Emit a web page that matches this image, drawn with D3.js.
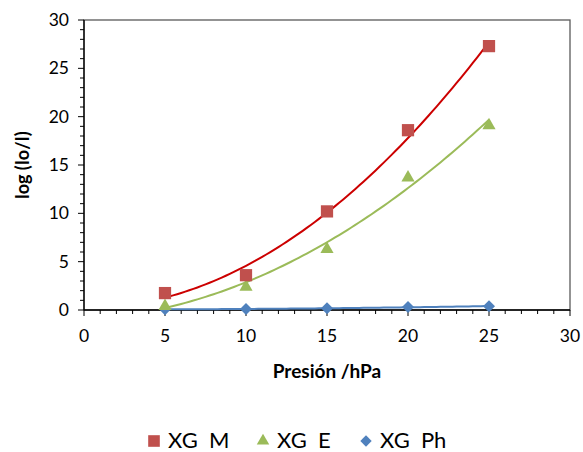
<!DOCTYPE html>
<html><head><meta charset="utf-8">
<script src="https://cdn.jsdelivr.net/npm/d3@7"></script>
<style>body{margin:0;background:#fff}svg{display:block}text{font-family:Lato,"Open Sans",sans-serif;fill:#000}</style>
</head><body>
<script>
const pressures = [5, 10, 15, 20, 25];
const seriesM = [1.75, 3.6, 10.2, 18.6, 27.3];
const seriesE = [0.5, 2.5, 6.4, 13.8, 19.2];
const seriesPh = [0.07, 0.1, 0.17, 0.3, 0.4];
const seriesNames = ["XG  M", "XG  E", "XG  Ph"];
const xTicks = [0, 5, 10, 15, 20, 25, 30];
const yTicks = [0, 5, 10, 15, 20, 25, 30];

const W = 583, H = 452;
const m = {l: 84, t: 20, r: 570, b: 310};
const svg = d3.select("body").append("svg").attr("width", W).attr("height", H);
const x = d3.scaleLinear().domain([0, 30]).range([m.l, m.r]);
const y = d3.scaleLinear().domain([0, 30]).range([m.b, m.t]);

svg.append("rect").attr("x", m.l).attr("y", m.t).attr("width", m.r - m.l).attr("height", m.b - m.t)
  .attr("fill", "none").attr("stroke", "#595959").attr("stroke-width", 1.3);

const minor = d3.range(0, 31, 1);
svg.append("g").selectAll("line").data(minor).join("line")
  .attr("x1", d => x(d)).attr("x2", d => x(d)).attr("y1", m.b).attr("y2", d => m.b + (d % 5 === 0 ? 6 : 4))
  .attr("stroke", "#000").attr("stroke-width", 1);
svg.append("g").selectAll("line").data(minor).join("line")
  .attr("y1", d => y(d)).attr("y2", d => y(d)).attr("x1", m.l).attr("x2", d => m.l - (d % 5 === 0 ? 6 : 4))
  .attr("stroke", "#000").attr("stroke-width", 1);
svg.append("line").attr("x1", m.l).attr("x2", m.r).attr("y1", m.b).attr("y2", m.b).attr("stroke", "#000").attr("stroke-width", 1.3);
svg.append("line").attr("x1", m.l).attr("x2", m.l).attr("y1", m.t).attr("y2", m.b).attr("stroke", "#000").attr("stroke-width", 1.3);

svg.append("g").selectAll("text").data(xTicks).join("text")
  .attr("x", d => x(d)).attr("y", 342).attr("text-anchor", "middle").attr("font-size", 17.5).text(d => d);
svg.append("g").selectAll("text").data(yTicks).join("text")
  .attr("x", 69).attr("y", d => y(d) + 6).attr("text-anchor", "end").attr("font-size", 17.5).text(d => d);

svg.append("text").attr("x", 327).attr("y", 378).attr("text-anchor", "middle")
  .attr("font-size", 19).attr("font-weight", "bold").text("Presión /hPa");
svg.append("text").attr("transform", "translate(29,165) rotate(-90)").attr("text-anchor", "middle")
  .attr("font-size", 18).attr("font-weight", "bold").text("log (Io/I)");

function quadFit(xs, ys) {
  const n = xs.length;
  let s = [0,0,0,0,0], t = [0,0,0];
  for (let i = 0; i < n; i++) {
    const xi = xs[i], yi = ys[i];
    for (let k = 0; k < 5; k++) s[k] += Math.pow(xi, k);
    for (let k = 0; k < 3; k++) t[k] += yi * Math.pow(xi, k);
  }
  const A = [[s[0], s[1], s[2], t[0]], [s[1], s[2], s[3], t[1]], [s[2], s[3], s[4], t[2]]];
  for (let i = 0; i < 3; i++) {
    for (let j = i + 1; j < 3; j++) {
      const f = A[j][i] / A[i][i];
      for (let k = i; k < 4; k++) A[j][k] -= f * A[i][k];
    }
  }
  const c = [0,0,0];
  for (let i = 2; i >= 0; i--) {
    let v = A[i][3];
    for (let k = i + 1; k < 3; k++) v -= A[i][k] * c[k];
    c[i] = v / A[i][i];
  }
  return xv => c[0] + c[1] * xv + c[2] * xv * xv;
}

const series = [
  {name: seriesNames[0], vals: seriesM, color: "#C0504D", trend: "#CC0000", shape: d3.symbolSquare, size: 150, rot: 0, dy: 0},
  {name: seriesNames[1], vals: seriesE, color: "#9BBB59", trend: "#9BBB59", shape: d3.symbolTriangle, size: 75, rot: 0, dy: 1},
  {name: seriesNames[2], vals: seriesPh, color: "#4F81BD", trend: "#4F81BD", shape: d3.symbolSquare, size: 72, rot: 45, dy: 0}
];

const line = d3.line().x(d => x(d[0])).y(d => y(d[1]));
series.forEach(s => {
  const f = quadFit(pressures, s.vals);
  const pts = d3.range(5, 25.01, 0.25).map(v => [v, f(v)]);
  svg.append("path").attr("d", line(pts)).attr("fill", "none").attr("stroke", s.trend).attr("stroke-width", 2);
});
series.slice().reverse().forEach(s => {
  svg.append("g").selectAll("path").data(pressures.map((p, i) => [p, s.vals[i]])).join("path")
    .attr("transform", d => `translate(${x(d[0])},${y(d[1]) + s.dy}) rotate(${s.rot})`)
    .attr("d", d3.symbol().type(s.shape).size(s.size)).attr("fill", s.color);
});

const leg = [{sx: 154, tx: 168}, {sx: 263, tx: 277}, {sx: 366, tx: 380}];
series.forEach((s, i) => {
  svg.append("path").attr("transform", `translate(${leg[i].sx},441) rotate(${s.rot})`)
    .attr("d", d3.symbol().type(s.shape).size(s.size * 0.9)).attr("fill", s.color);
  svg.append("text").attr("x", leg[i].tx).attr("y", 448).attr("font-size", 22).text(s.name).style("white-space", "pre");
});
</script>
</body></html>
